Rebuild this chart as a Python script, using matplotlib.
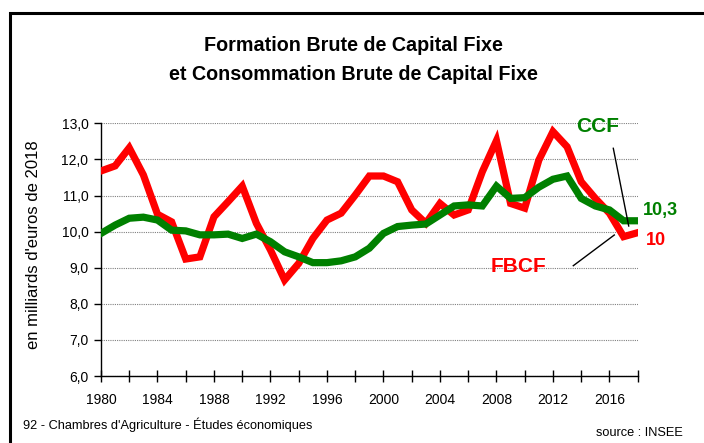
import matplotlib
matplotlib.use("Agg")
import matplotlib.pyplot as plt
from matplotlib.patches import Rectangle

years = list(range(1980, 2019))
fbcf = [11.68, 11.82, 12.32, 11.57, 10.48, 10.27, 9.24, 9.30, 10.41, 10.83,
        11.26, 10.23, 9.49, 8.66, 9.12, 9.81, 10.32, 10.51, 11.01, 11.54,
        11.54, 11.38, 10.60, 10.23, 10.78, 10.46, 10.60, 11.66, 12.52, 10.78,
        10.65, 11.98, 12.77, 12.35, 11.38, 10.92, 10.51, 9.86, 9.97]
ccf = [9.95, 10.18, 10.37, 10.40, 10.32, 10.04, 10.02, 9.91, 9.91, 9.93,
       9.81, 9.93, 9.72, 9.44, 9.30, 9.14, 9.14, 9.19, 9.30, 9.54,
       9.95, 10.14, 10.18, 10.21, 10.46, 10.71, 10.74, 10.71, 11.26, 10.92,
       10.94, 11.23, 11.45, 11.54, 10.92, 10.71, 10.60, 10.30, 10.30]
yticks = [6, 7, 8, 9, 10, 11, 12, 13]
title = "Formation Brute de Capital Fixe\net Consommation Brute de Capital Fixe"
ylabel = "en milliards d'euros de 2018"

plt.rcParams['font.family'] = ['Liberation Sans', 'DejaVu Sans']

W, H = 704, 443
fig = plt.figure(figsize=(W / 100, H / 100), dpi=100)

def fx(px):
    return px / W

def fy(py):
    return 1 - py / H

# frame with light shadow on top
fig.patches.append(Rectangle((fx(10), fy(460)), fx(720) - fx(10), fy(13) - fy(460),
                             transform=fig.transFigure, fill=False, edgecolor='black',
                             linewidth=2.2, zorder=0))

x0, x1, y0, y1 = 101, 637.7, 376, 123.3
ax = fig.add_axes([fx(x0), fy(y0), fx(x1) - fx(x0), fy(y1) - fy(y0)])
ax.plot(years, fbcf, color='#ff0000', linewidth=5.2, solid_joinstyle='miter', zorder=3)
ax.plot(years, ccf, color='#008000', linewidth=5.2, solid_joinstyle='miter', zorder=4)

ax.set_xlim(1980, 2018)
ax.set_ylim(6, 13)
ax.set_yticks(yticks)
ax.set_yticklabels([f"{v:.1f}".replace('.', ',') for v in yticks], fontsize=10)
xt = list(range(1980, 2019, 2))
ax.set_xticks(xt)
ax.set_xticklabels([str(y) if (y - 1980) % 4 == 0 else '' for y in xt], fontsize=10)
ax.tick_params(axis='x', direction='inout', length=8, width=1, pad=8)
ax.tick_params(axis='y', direction='out', length=5, width=1, pad=4)
for s in ['top', 'right']:
    ax.spines[s].set_visible(False)
for s in ['left', 'bottom']:
    ax.spines[s].set_linewidth(1)
ax.grid(axis='y', color='#808080', linestyle=(0, (1, 1)), linewidth=0.8)
ax.set_axisbelow(True)
ax.set_ylabel(ylabel, fontsize=12)
ax.yaxis.set_label_coords((41 - x0) / (x1 - x0), (y0 - 245) / (y0 - y1))

fig.text(fx(353), fy(60), title, ha='center', va='center', fontsize=14.2,
         fontweight='bold', linespacing=1.65)

# annotations
fig.text(fx(598), fy(126), "CCF", color='#008000', fontsize=15, fontweight='bold',
         ha='center', va='center')
fig.text(fx(518), fy(267), "FBCF", color='#ff0000', fontsize=15, fontweight='bold',
         ha='center', va='center')
fig.text(fx(643), fy(210), "10,3", color='#008000', fontsize=13, fontweight='bold',
         ha='left', va='center')
fig.text(fx(646), fy(240), "10", color='#ff0000', fontsize=13, fontweight='bold',
         ha='left', va='center')
fig.add_artist(plt.Line2D([fx(613.3), fx(628.7)], [fy(148.3), fy(226)], color='black',
                          linewidth=1, transform=fig.transFigure))
fig.add_artist(plt.Line2D([fx(573.3), fx(614.3)], [fy(265.7), fy(235)], color='black',
                          linewidth=1, transform=fig.transFigure))

fig.text(fx(23), fy(425), "92 - Chambres d'Agriculture - Études économiques",
         fontsize=9.2, ha='left', va='center')
fig.text(fx(683), fy(433), "source : INSEE", fontsize=9.2, ha='right', va='center')

fig.savefig("out.png", dpi=100)
